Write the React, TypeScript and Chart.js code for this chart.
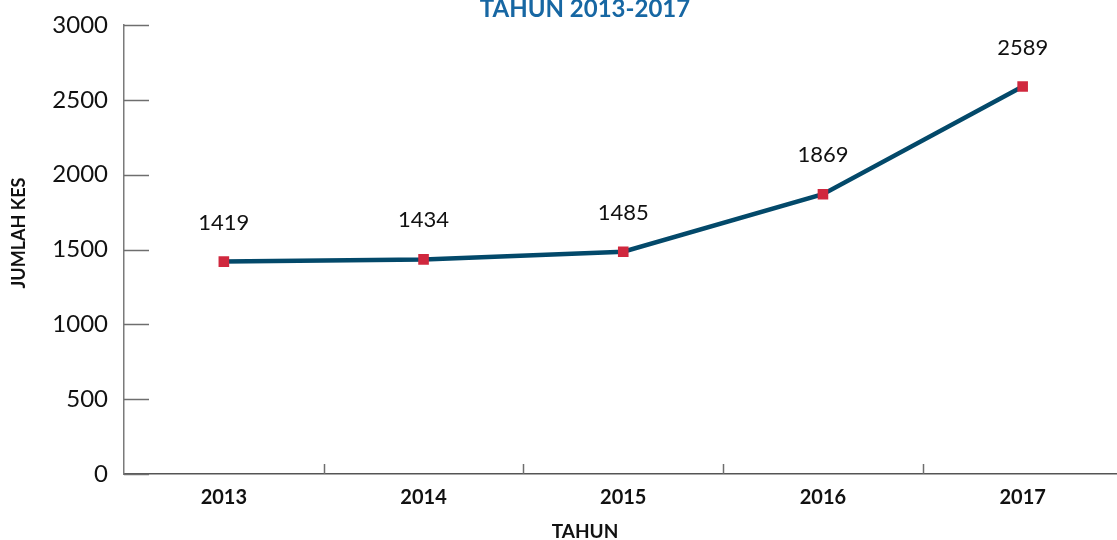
import React, { useEffect, useRef } from "react";
import { Chart, registerables } from "chart.js";

Chart.register(...registerables);

const categories = ["2013", "2014", "2015", "2016", "2017"];
const cases = [1419, 1434, 1485, 1869, 2589];
const yTicks = [0, 500, 1000, 1500, 2000, 2500, 3000];
const chartTitle = "TAHUN 2013-2017";
const xTitle = "TAHUN";
const yTitle = "JUMLAH KES";

const FONT = "Lato, 'Open Sans', sans-serif";

const extrasPlugin = {
  id: "extras",
  afterDraw(chart: any) {
    const ctx = chart.ctx;
    const { chartArea } = chart;
    const xs = chart.scales.x;
    const ys = chart.scales.y;
    ctx.save();
    // y ticks drawn inward
    ctx.strokeStyle = "#6e6e6e";
    ctx.lineWidth = 1.5;
    yTicks.forEach((v) => {
      const y = Math.round(ys.getPixelForValue(v)) + 0.5;
      ctx.beginPath();
      ctx.moveTo(chartArea.left, y);
      ctx.lineTo(chartArea.left + 25, y);
      ctx.stroke();
    });
    // x ticks at category boundaries, drawn upward
    const half = (xs.getPixelForValue(1) - xs.getPixelForValue(0)) / 2;
    for (let i = 1; i < categories.length; i++) {
      const x = Math.round(xs.getPixelForValue(i) - half) + 0.5;
      ctx.beginPath();
      ctx.moveTo(x, chartArea.bottom);
      ctx.lineTo(x, chartArea.bottom - 10);
      ctx.stroke();
    }
    // data labels
    const meta = chart.getDatasetMeta(0);
    ctx.fillStyle = "#111";
    ctx.font = `22px ${FONT}`;
    ctx.textAlign = "center";
    ctx.textBaseline = "middle";
    meta.data.forEach((pt: any, i: number) => {
      ctx.fillText(String(cases[i]), pt.x, pt.y - 39);
    });
    // axis titles
    ctx.font = `bold 19px ${FONT}`;
    ctx.fillText(xTitle, 585, 532);
    ctx.save();
    ctx.translate(19, 233);
    ctx.rotate(-Math.PI / 2);
    ctx.font = `bold 18px ${FONT}`;
    ctx.fillText(yTitle, 0, 0);
    ctx.restore();
    // title (partly cut off at top)
    ctx.fillStyle = "#1767a3";
    ctx.font = `bold 24px ${FONT}`;
    ctx.textBaseline = "alphabetic";
    ctx.fillText(chartTitle, 585, 17);
    ctx.restore();
  },
};

export default function App() {
  const ref = useRef<HTMLCanvasElement>(null);
  useEffect(() => {
    if (!ref.current) return;
    const chart = new Chart(ref.current, {
      type: "line",
      data: {
        labels: categories,
        datasets: [
          {
            data: cases,
            borderColor: "#03496a",
            borderWidth: 4.5,
            pointStyle: "rect",
            pointRadius: 7.5,
            pointBackgroundColor: "#d0283e",
            pointBorderColor: "#d0283e",
            pointBorderWidth: 0,
            tension: 0,
          },
        ],
      },
      options: {
        animation: false,
        responsive: true,
        maintainAspectRatio: false,
        layout: { padding: { top: 25, right: 0, left: 0, bottom: 0 } },
        plugins: {
          legend: { display: false },
          tooltip: { enabled: false },
        },
        scales: {
          x: {
            offset: true,
            grid: { display: false, drawTicks: false },
            border: { display: true, color: "#555", width: 1.5 },
            ticks: {
              color: "#111",
              font: { family: FONT, size: 20, weight: "bold" },
              padding: 12,
            },
            afterFit: (s: any) => {
              s.height = 66;
              s.paddingLeft = 0;
              s.paddingRight = 0;
            },
          },
          y: {
            min: 0,
            max: 3000,
            afterBuildTicks: (s: any) => {
              s.ticks = yTicks.map((v) => ({ value: v }));
            },
            grid: { display: false, drawTicks: false },
            border: { display: true, color: "#7a7a7a", width: 1.5 },
            ticks: {
              color: "#111",
              font: { family: FONT, size: 24 },
              padding: 16,
              callback: (v: any) => String(v),
            },
            afterFit: (s: any) => {
              s.width = 124;
              s.paddingTop = 0;
              s.paddingBottom = 0;
            },
          },
        },
      },
      plugins: [extrasPlugin],
    });
    return () => chart.destroy();
  }, []);
  return (
    <div style={{ position: "fixed", left: 0, top: 0, width: 1130, height: 540, background: "#fff" }}>
      <canvas ref={ref} />
    </div>
  );
}
